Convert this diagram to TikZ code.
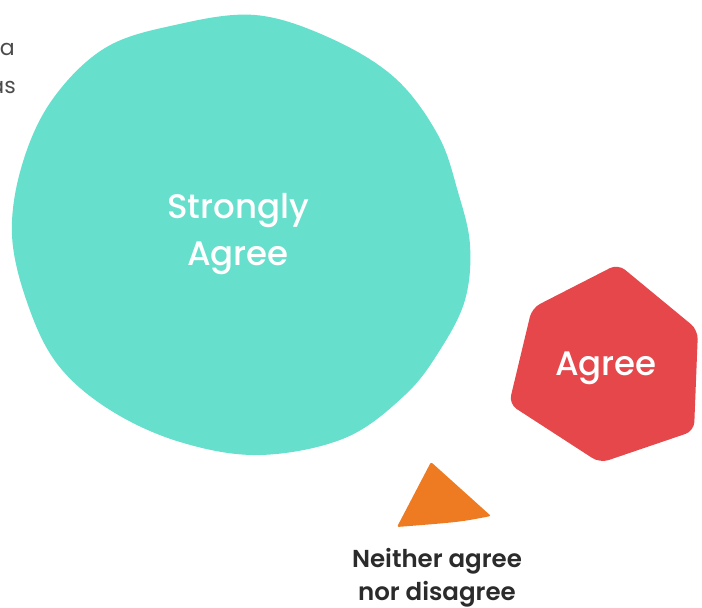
\documentclass[tikz,border=0pt]{standalone}
\usepackage{fontspec}
\setmainfont{Poppins}
\newfontfamily\mediumfont{Poppins Medium}
\newfontfamily\semifont{Poppins SemiBold}
\usepackage{xcolor}
\usetikzlibrary{positioning}
\definecolor{teal_blob}{HTML}{66DFCC}
\definecolor{red_hex}{HTML}{E5474A}
\definecolor{orange_tri}{HTML}{EE7A22}
\definecolor{dark_text}{HTML}{2B2B2B}
\tikzset{
    lbl/.style = {align=center, inner sep=0pt, text centered},
    white_lbl/.style = {lbl, white, font=\mediumfont\fontsize{34}{47}\selectfont},
    black_lbl/.style = {lbl, dark_text, font=\semifont\fontsize{24.5}{33}\selectfont},
    cut_lbl/.style = {inner sep=0pt, anchor=east, dark_text!85, font=\fontsize{22}{26}\selectfont}
}

\begin{document}
\begin{tikzpicture}[x=1pt, y=-1pt]
            \useasboundingbox (0,0) rectangle (702,608);

            % big blob
            \fill [teal_blob] plot [smooth cycle, tension=0.6] coordinates {
                (175,25) (255,15) (330,38) (395,78) (438,135) (458,192)
                (470,245) (465,300) (440,350) (405,395) (345,438) (260,455)
                (180,442) (110,410) (58,365) (28,305) (12,235) (22,165)
                (52,100) (105,48)};

            % hexagon
            \fill [red_hex, rounded corners=9pt]
                (618,264) -- (698,330) -- (694,431) -- (600,463)
                -- (509,404) -- (532,308) -- cycle;

            % triangle
            \fill [orange_tri, rounded corners=2pt]
                (431,462) -- (491,516) .. controls (460,522) .. (397,527) -- cycle;

            \node [white_lbl] (strong) at (238,234) {Strongly\\Agree};
            \node [white_lbl] (agree) at (606,368) {Agree};
            \node [black_lbl] (neither) at (437,578) {Neither agree\\nor disagree};

            \node [cut_lbl] (cut_a) at (15,49) {a};
            \node [cut_lbl] (cut_as) at (16,87) {as};
\end{tikzpicture}
\end{document}
